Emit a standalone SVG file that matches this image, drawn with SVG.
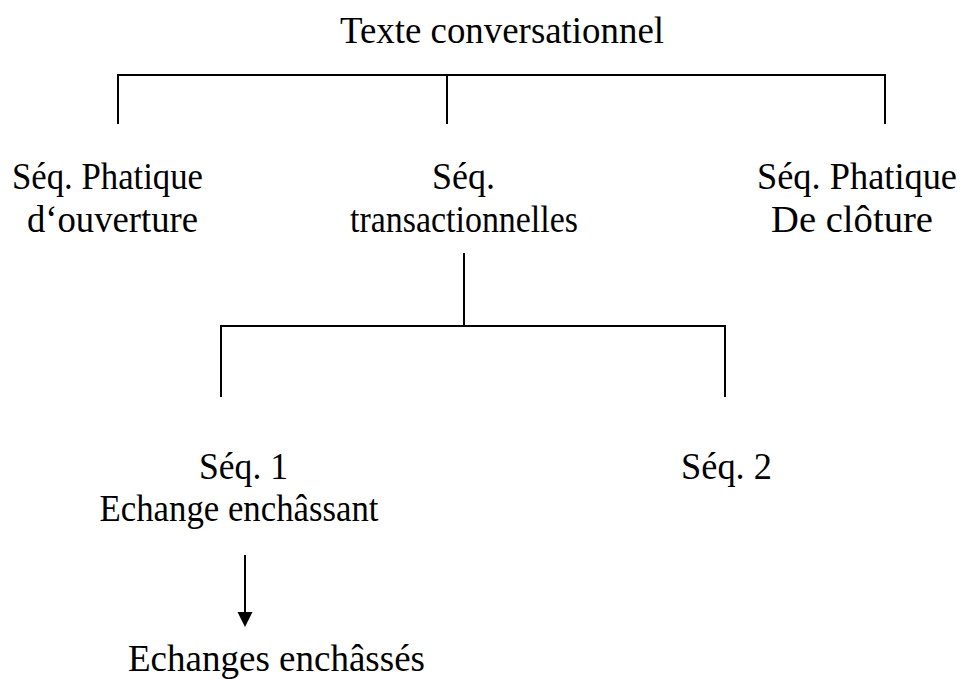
<svg xmlns="http://www.w3.org/2000/svg" width="965" height="679" viewBox="0 0 965 679">
  <style>
    text { font-family: "Liberation Serif", "Times New Roman", serif; font-size: 37px; fill: #000; text-anchor: middle; }
    .ln { stroke: #000; stroke-width: 2; fill: none; }
  </style>
  <rect width="965" height="679" fill="#fff"/>

  <g id="connectors">
    <!-- first level bracket -->
    <path class="ln" d="M118,124 V75 H885 V124 M447,75 V124"/>
    <!-- second level bracket -->
    <path class="ln" d="M464,253 V326 M221,397 V326 H725 V397"/>
    <!-- embedded exchanges arrow -->
    <path class="ln" d="M245,555 V613"/>
    <path d="M237.5,612 L252.5,612 L245,627 Z" fill="#000"/>
  </g>

  <g id="texte-conversationnel">
    <text x="502" y="43" textLength="324" lengthAdjust="spacingAndGlyphs">Texte conversationnel</text>
  </g>
  <g id="seq-ouverture">
    <text x="107.5" y="189" textLength="191" lengthAdjust="spacingAndGlyphs">Séq. Phatique</text>
    <text x="112.5" y="232" textLength="171" lengthAdjust="spacingAndGlyphs">d‘ouverture</text>
  </g>
  <g id="seq-transactionnelles">
    <text x="463.5" y="189" textLength="63" lengthAdjust="spacingAndGlyphs">Séq.</text>
    <text x="464" y="232" textLength="228" lengthAdjust="spacingAndGlyphs">transactionnelles</text>
  </g>
  <g id="seq-cloture">
    <text x="857" y="189" textLength="200" lengthAdjust="spacingAndGlyphs">Séq. Phatique</text>
    <text x="852" y="232" textLength="162" lengthAdjust="spacingAndGlyphs">De clôture</text>
  </g>
  <g id="seq-1">
    <text x="243.5" y="479" textLength="89" lengthAdjust="spacingAndGlyphs">Séq. 1</text>
    <text x="239" y="521" textLength="279" lengthAdjust="spacingAndGlyphs">Echange enchâssant</text>
  </g>
  <g id="seq-2">
    <text x="726.5" y="479" textLength="91" lengthAdjust="spacingAndGlyphs">Séq. 2</text>
  </g>
  <g id="echanges-enchasses">
    <text x="276.5" y="671" textLength="297" lengthAdjust="spacingAndGlyphs">Echanges enchâssés</text>
  </g>
</svg>
